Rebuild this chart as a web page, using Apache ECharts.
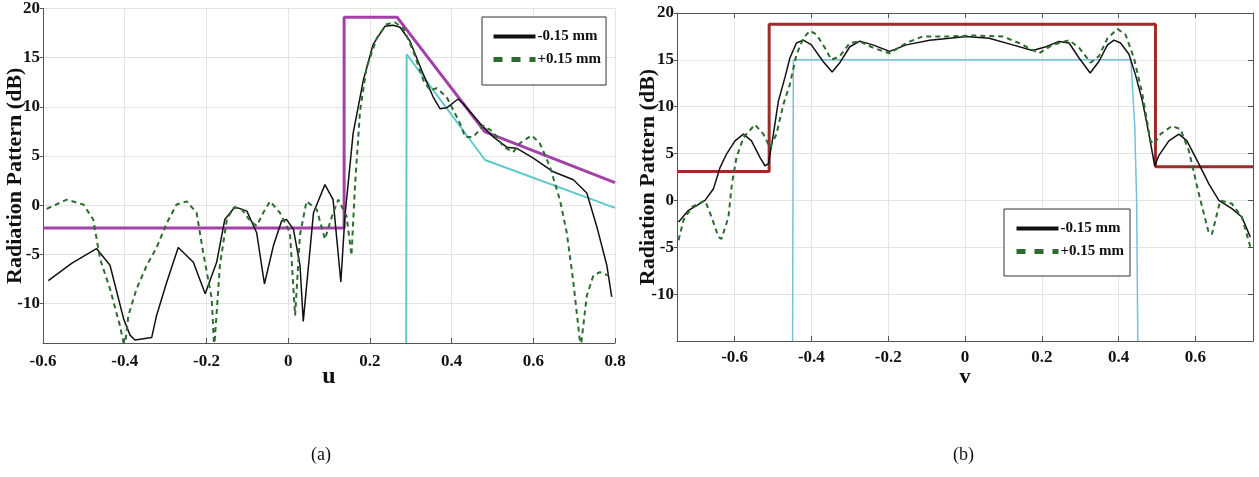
<!DOCTYPE html>
<html>
<head>
<meta charset="utf-8">
<script src="https://cdn.jsdelivr.net/npm/echarts@6/dist/echarts.min.js"></script>
<style>
html,body{margin:0;padding:0;background:#fff;}
#chart{width:1259px;height:477px;}
</style>
</head>
<body>
<div id="chart"></div>
<script>
// ---------- Panel (a): u-cut ----------
const uMinus = [-0.587,-0.53,-0.469,-0.436,-0.403,-0.387,-0.375,-0.334,-0.322,-0.297,-0.269,-0.232,-0.203,-0.175,-0.155,-0.13,-0.101,-0.077,-0.058,-0.036,-0.016,-0.004,0.013,0.029,0.037,0.062,0.09,0.11,0.129,0.139,0.159,0.184,0.208,0.237,0.257,0.274,0.298,0.331,0.355,0.372,0.388,0.416,0.429,0.47,0.502,0.535,0.559,0.6,0.649,0.698,0.731,0.755,0.78,0.792];
const uMinusDB = [-7.65,-5.9,-4.4,-6.1,-11.5,-13.2,-13.7,-13.45,-11.2,-7.8,-4.3,-5.8,-9.0,-5.8,-1.44,-0.16,-0.6,-2.8,-8.0,-4.1,-1.6,-1.44,-2.45,-6.1,-11.8,-0.77,2.1,0.57,-7.8,-1.1,7.3,12.7,16.35,18.2,18.3,18.1,16.7,13.3,11.0,9.8,9.9,10.8,10.3,8.3,6.95,5.9,5.8,4.8,3.4,2.6,1.25,-2.1,-6.1,-9.3];
const uPlus = [-0.591,-0.542,-0.501,-0.477,-0.46,-0.436,-0.412,-0.4,-0.391,-0.371,-0.346,-0.322,-0.297,-0.273,-0.248,-0.224,-0.208,-0.187,-0.181,-0.167,-0.15,-0.134,-0.116,-0.093,-0.077,-0.061,-0.044,-0.02,0.0045,0.017,0.029,0.045,0.07,0.09,0.11,0.123,0.143,0.155,0.164,0.176,0.192,0.217,0.241,0.261,0.282,0.306,0.331,0.347,0.364,0.388,0.421,0.433,0.453,0.478,0.502,0.527,0.551,0.567,0.596,0.616,0.641,0.665,0.682,0.698,0.716,0.731,0.747,0.763,0.784];
const uPlusDB = [-0.36,0.57,0.07,-1.44,-5.5,-8.5,-12.2,-14.5,-11.2,-8.5,-6.1,-4.3,-1.8,0.07,0.4,-0.77,-4.8,-9.5,-14.5,-6.1,-1.44,-0.27,-0.27,-1.6,-2.1,-0.77,0.4,-0.77,-2.8,-11.2,-3.0,0.4,-0.43,-3.45,-0.77,0.57,-1.1,-5.1,2.25,9.6,14,17,18.4,18.6,18.0,15.7,12.7,11.7,11.9,11.0,8.3,6.95,6.95,8.1,7.45,5.95,5.4,6.3,7.1,6.3,3.9,0.57,-2.8,-7.8,-14.5,-9.2,-7.15,-6.8,-7.15];
const uMaskUp = [-0.6,0.137,0.137,0.267,0.482,0.8];
const uMaskUpDB = [-2.3,-2.3,19.1,19.1,7.45,2.3];
const uMaskLow = [0.289,0.29,0.482,0.8];
const uMaskLowDB = [-14,15.35,4.6,-0.26];

// ---------- Panel (b): v-cut ----------
const vMinus = [-0.746,-0.72,-0.698,-0.677,-0.655,-0.638,-0.621,-0.599,-0.577,-0.556,-0.534,-0.521,-0.512,-0.499,-0.486,-0.469,-0.456,-0.439,-0.421,-0.4,-0.37,-0.346,-0.326,-0.3,-0.274,-0.24,-0.196,-0.153,-0.092,-0.04,0.003,0.063,0.124,0.176,0.211,0.245,0.271,0.297,0.326,0.349,0.371,0.388,0.405,0.427,0.444,0.462,0.479,0.494,0.505,0.531,0.557,0.578,0.609,0.635,0.661,0.695,0.721,0.743];
const vMinusDB = [-2.3,-1.06,-0.53,0,1.24,3.5,4.95,6.36,7.07,6.36,4.6,3.7,3.9,7.07,10.6,13.1,15.2,16.8,17.1,16.6,14.85,13.7,14.7,16.4,17.0,16.6,15.9,16.6,17.1,17.3,17.5,17.3,16.6,16.0,16.4,16.97,16.8,15.2,13.6,14.85,16.6,17.1,16.8,15.6,13.4,10.6,7.07,3.7,4.8,6.36,7.07,6.36,3.9,1.77,0,-0.88,-1.77,-3.9];
const vPlus = [-0.746,-0.733,-0.711,-0.677,-0.66,-0.642,-0.634,-0.616,-0.607,-0.595,-0.577,-0.547,-0.525,-0.508,-0.491,-0.473,-0.456,-0.439,-0.421,-0.404,-0.387,-0.365,-0.348,-0.326,-0.3,-0.274,-0.24,-0.196,-0.153,-0.11,-0.04,0.02,0.098,0.141,0.193,0.228,0.271,0.297,0.327,0.349,0.371,0.397,0.418,0.44,0.462,0.483,0.492,0.509,0.539,0.561,0.583,0.609,0.635,0.643,0.665,0.695,0.721,0.743];
const vPlusDB = [-4.24,-2.1,-0.7,0,-1.77,-3.9,-4.1,-1.77,1.77,4.6,6.7,8.1,7.07,5.65,7.07,10.25,12.4,15.55,17.3,18.1,17.7,16.3,15.0,15.4,16.8,16.97,16.3,15.7,16.8,17.5,17.5,17.6,17.5,16.8,15.7,16.6,17.1,16.3,14.7,15.4,17.3,18.3,17.7,15.2,11.3,6.36,6.0,7.07,7.95,7.6,5.3,0.7,-3.5,-3.6,0,-0.35,-1.77,-4.95];
const vMaskUp = [-0.75,-0.51,-0.51,0.496,0.496,0.75];
const vMaskUpDB = [3.1,3.1,18.8,18.8,3.6,3.6];
const vMaskLow = [-0.449,-0.447,0.432,0.442,0.447,0.45];
const vMaskLowDB = [-15,15,15,8,0,-15];

const legendNames = ['-0.15 mm', '+0.15 mm'];
const panelLabels = ['(a)', '(b)'];
const axisNames = ['u', 'v', 'Radiation Pattern (dB)'];

function zip(xs, ys) { return xs.map((x, i) => [x, ys[i]]); }

const FONT = 'Liberation Serif';
const GREEN = '#2e6b30';
const gridLine = { show: true, lineStyle: { color: '#e4e4e4', width: 1 } };
const tickLbl = { color: '#111', fontFamily: FONT, fontWeight: 'bold', fontSize: 17 };
const axisCol = '#555';

const chart = echarts.init(document.getElementById('chart'), null, { renderer: 'canvas' });

function legendFor(left, top, pad) {
  return {
    left: left, top: top, orient: 'vertical',
    padding: pad, itemWidth: 42, itemHeight: 16, itemGap: 8,
    backgroundColor: '#fff', borderColor: '#333', borderWidth: 1, borderRadius: 0,
    selectedMode: false,
    textStyle: { fontFamily: FONT, fontWeight: 'bold', fontSize: 15, color: '#111', padding: [0, 0, 0, -3] },
    data: [
      { name: legendNames[0], itemStyle: { opacity: 0 }, lineStyle: { color: '#111', width: 4, type: 'solid' } },
      { name: legendNames[1], itemStyle: { opacity: 0 }, lineStyle: { color: GREEN, width: 5, type: [9, 9] } }
    ]
  };
}

chart.setOption({
  animation: false,
  backgroundColor: '#fff',
  grid: [
    { left: 43, top: 7, width: 572, height: 336, containLabel: false },
    { left: 677, top: 13, width: 576, height: 328, containLabel: false, show: false }
  ],
  legend: [
    legendFor(482, 17, [12, 5, 18, 9]),
    legendFor(1004, 209, [12, 6, 17, 10])
  ],
  xAxis: [
    { gridIndex: 0, type: 'value', min: -0.6, max: 0.8, interval: 0.2,
      name: axisNames[0], nameLocation: 'middle', nameGap: 22, nameMoveOverlap: false,
      nameTextStyle: { fontFamily: FONT, fontWeight: 'bold', fontSize: 24, color: '#111' },
      axisLine: { show: true, onZero: false, lineStyle: { color: axisCol, width: 1 } },
      axisTick: { show: true, inside: true, length: 5, lineStyle: { color: axisCol } },
      axisLabel: Object.assign({ margin: 10 }, tickLbl),
      splitLine: gridLine },
    { gridIndex: 1, type: 'value', min: -0.75, max: 0.75, splitNumber: 7,
      name: axisNames[1], nameLocation: 'middle', nameGap: 25, nameMoveOverlap: false,
      nameTextStyle: { fontFamily: FONT, fontWeight: 'bold', fontSize: 22, color: '#111' },
      axisLine: { show: true, onZero: false, lineStyle: { color: axisCol, width: 1 } },
      axisTick: { show: true, inside: true, length: 5, lineStyle: { color: axisCol } },
      axisLabel: Object.assign({ margin: 8, showMinLabel: false, showMaxLabel: false }, tickLbl),
      splitLine: gridLine },
    { gridIndex: 1, type: 'value', position: 'top', min: -0.75, max: 0.75, splitNumber: 7,
      axisLine: { show: true, onZero: false, lineStyle: { color: axisCol, width: 1 } },
      axisTick: { show: true, inside: true, length: 5, lineStyle: { color: axisCol } },
      axisLabel: { show: false }, splitLine: { show: false } }
  ],
  yAxis: [
    { gridIndex: 0, type: 'value', min: -14, max: 20, splitNumber: 7,
      name: axisNames[2], nameLocation: 'middle', nameGap: 17, nameMoveOverlap: false,
      nameTextStyle: { fontFamily: FONT, fontWeight: 'bold', fontSize: 22, color: '#111' },
      axisLine: { show: true, onZero: false, lineStyle: { color: axisCol, width: 1 } },
      axisTick: { show: true, inside: false, length: 3, lineStyle: { color: axisCol } },
      axisLabel: Object.assign({ margin: 3, showMinLabel: false }, tickLbl),
      splitLine: gridLine },
    { gridIndex: 1, type: 'value', min: -15, max: 20, interval: 5,
      name: axisNames[2], nameLocation: 'middle', nameGap: 18, nameMoveOverlap: false,
      nameTextStyle: { fontFamily: FONT, fontWeight: 'bold', fontSize: 22, color: '#111' },
      axisLine: { show: true, onZero: false, lineStyle: { color: axisCol, width: 1 } },
      axisTick: { show: true, inside: false, length: 3, lineStyle: { color: axisCol } },
      axisLabel: Object.assign({ margin: 3, showMinLabel: false }, tickLbl),
      splitLine: gridLine },
    { gridIndex: 1, type: 'value', position: 'right', min: -15, max: 20, interval: 5,
      axisLine: { show: true, onZero: false, lineStyle: { color: axisCol, width: 1 } },
      axisTick: { show: true, inside: true, length: 5, lineStyle: { color: axisCol } },
      axisLabel: { show: false }, splitLine: { show: false } }
  ],
  graphic: [
    { type: 'text', left: 311, top: 446, style: { text: panelLabels[0], fontFamily: FONT, fontSize: 18, fill: '#111' } },
    { type: 'text', left: 953, top: 446, style: { text: panelLabels[1], fontFamily: FONT, fontSize: 18, fill: '#111' } }
  ],
  series: [
    { name: 'mask-upper-a', type: 'line', xAxisIndex: 0, yAxisIndex: 0, data: zip(uMaskUp, uMaskUpDB),
      symbol: 'none', lineStyle: { color: '#a341a8', width: 3 }, z: 2 },
    { name: 'mask-lower-a', type: 'line', xAxisIndex: 0, yAxisIndex: 0, data: zip(uMaskLow, uMaskLowDB),
      symbol: 'none', lineStyle: { color: '#5ec9cc', width: 2 }, z: 2 },
    { name: legendNames[0], type: 'line', xAxisIndex: 0, yAxisIndex: 0, data: zip(uMinus, uMinusDB),
      symbol: 'none', lineStyle: { color: '#111', width: 1.5 }, z: 3 },
    { name: legendNames[1], type: 'line', xAxisIndex: 0, yAxisIndex: 0, data: zip(uPlus, uPlusDB),
      symbol: 'none', lineStyle: { color: GREEN, width: 2, type: [5, 4] }, z: 3 },

    { name: 'mask-upper-b', type: 'line', xAxisIndex: 1, yAxisIndex: 1, data: zip(vMaskUp, vMaskUpDB),
      symbol: 'none', lineStyle: { color: '#9e2a2a', width: 3 }, z: 2 },
    { name: 'mask-lower-b', type: 'line', xAxisIndex: 1, yAxisIndex: 1, data: zip(vMaskLow, vMaskLowDB),
      symbol: 'none', lineStyle: { color: '#74c2da', width: 1.5 }, z: 2 },
    { name: legendNames[0], type: 'line', xAxisIndex: 1, yAxisIndex: 1, data: zip(vMinus, vMinusDB),
      symbol: 'none', lineStyle: { color: '#111', width: 1.5 }, z: 3 },
    { name: legendNames[1], type: 'line', xAxisIndex: 1, yAxisIndex: 1, data: zip(vPlus, vPlusDB),
      symbol: 'none', lineStyle: { color: GREEN, width: 2, type: [5, 4] }, z: 3 }
  ]
});
</script>
</body>
</html>
